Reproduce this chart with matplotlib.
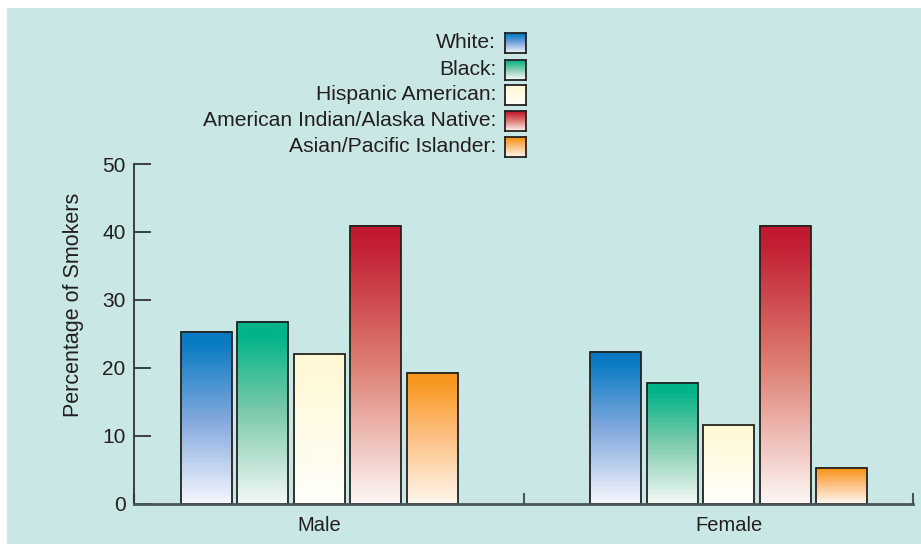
import numpy as np
import matplotlib.pyplot as plt
from matplotlib.colors import LinearSegmentedColormap
from matplotlib.patches import Rectangle

plt.rcParams['font.family'] = ['Liberation Sans', 'DejaVu Sans']

groups = ['Male', 'Female']
races = ['White', 'Black', 'Hispanic American',
         'American Indian/Alaska Native', 'Asian/Pacific Islander']
male = [25.2, 26.8, 22.0, 40.9, 19.2]
female = [22.3, 17.7, 11.5, 40.8, 5.3]

# gradient stops per race: top, mid, bottom
stops = [
    ['#0679c2', '#0a7cc4', '#7ea6dc', '#f5f6fd'],
    ['#00b388', '#03b489', '#7ccaab', '#f2f9f5'],
    ['#fff8d4', '#fff8d6', '#fffbe6', '#fffffb'],
    ['#c1182f', '#c42034', '#dd7e72', '#fdf6f4'],
    ['#f7941d', '#f8981f', '#fdc185', '#fff7ec'],
]
pos = [0.0, 0.08, 0.5, 1.0]
text_col = '#231f20'
edge_col = '#222222'
bg = '#c9e7e5'

W, H = 921, 544
fig = plt.figure(figsize=(W / 100, H / 100), dpi=100)
fig.patch.set_facecolor('white')
fig.patches.append(Rectangle((7 / W, 0), 1, 1 - 8 / H, transform=fig.transFigure,
                             facecolor=bg, edgecolor='none', zorder=-5))


def gradient(i):
    cmap = LinearSegmentedColormap.from_list('g%d' % i, list(zip(pos, stops[i])))
    return cmap(np.linspace(0, 1, 256))[:, None, :3]


ax = fig.add_axes([134 / W, 1 - 503.5 / H, (913 - 134) / W, (503.5 - 164) / H])
ax.set_facecolor('none')

width = 0.1245
step = 0.138
for g, vals in enumerate([male, female]):
    for i, v in enumerate(vals):
        x = g + (i - 2) * step
        ax.imshow(gradient(i), extent=[x - width / 2, x + width / 2, 0, v],
                  aspect='auto', origin='upper', zorder=2)
        ax.bar(x, v, width=width, facecolor='none', edgecolor=edge_col,
               linewidth=1.3, zorder=3)

xmin, xmax = -0.452, 1.45
ax.set_xlim(xmin, xmax)
ax.set_ylim(0, 50)
ax.set_aspect('auto')

for s in ['top', 'right']:
    ax.spines[s].set_visible(False)
ax.spines['left'].set_color('#333333')
ax.spines['left'].set_linewidth(1.3)
ax.spines['bottom'].set_color('#4a5555')
ax.spines['bottom'].set_linewidth(2)
ax.spines['bottom'].set_zorder(4)

ax.set_yticks([0, 10, 20, 30, 40, 50])
ax.tick_params(axis='y', direction='in', length=12, width=1.3, color='#333333',
               labelsize=15, labelcolor=text_col, pad=6)
ax.set_xticks([xmin, 0.5, xmax])
ax.set_xticklabels([])
ax.tick_params(axis='x', which='major', direction='in', length=8, width=1.5,
               color='#4a5555')
ax.set_xticks([0, 1], minor=True)
ax.set_xticklabels(groups, minor=True)
ax.tick_params(axis='x', which='minor', length=0, labelsize=14.5,
               labelcolor=text_col, pad=9)

fig.text(73 / W, 1 - 305 / H, 'Percentage of Smokers', rotation=90,
         ha='center', va='center', fontsize=15.5, color=text_col)

# legend rows: label then gradient swatch
row_y = [43, 69.5, 95, 121, 147]
for i, (name, yc) in enumerate(zip(races, row_y)):
    fig.text(496 / W, 1 - yc / H, name + ':', ha='right', va='center',
             fontsize=15.2, color=text_col)
    sw = fig.add_axes([505 / W, 1 - (yc + 10) / H, 21 / W, 20 / H])
    sw.imshow(gradient(i), aspect='auto', origin='upper')
    sw.set_xticks([])
    sw.set_yticks([])
    for s in sw.spines.values():
        s.set_color(edge_col)
        s.set_linewidth(1.3)

fig.savefig('out.png', dpi=100)
